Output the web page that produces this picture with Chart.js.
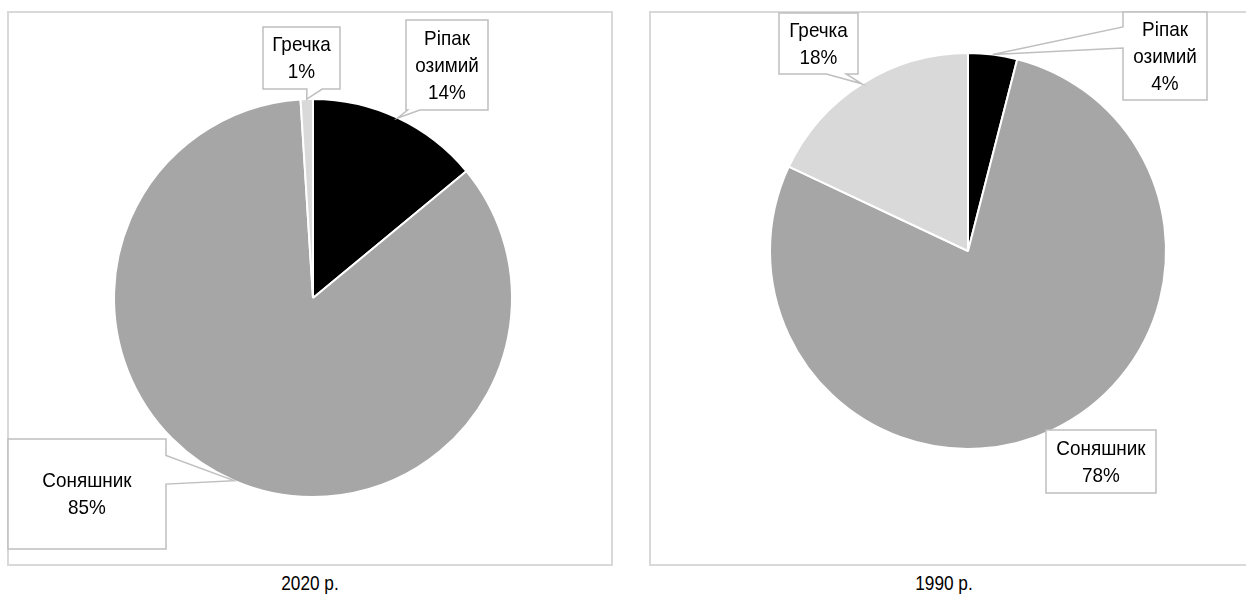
<!DOCTYPE html>
<html lang="uk">
<head>
<meta charset="utf-8">
<title>Структура посівних площ олійних культур</title>
<script src="https://cdn.jsdelivr.net/npm/chart.js@4.4.1/dist/chart.umd.min.js"></script>
<style>
  html, body { margin: 0; padding: 0; background: #ffffff; }
  body { position: relative; width: 1246px; height: 596px; overflow: hidden;
         font-family: "Liberation Sans", Arial, sans-serif; }
  .panel { position: absolute; }
  .caption { position: absolute; top: 570px; font-size: 21px; color: #000;
             text-align: center; width: 200px; line-height: 26px;
             transform: scaleX(0.82); transform-origin: center; }
</style>
</head>
<body>
<div class="panel" id="p2020" style="left:7px; top:11px; width:606px; height:555px;">
  <canvas id="c2020" width="606" height="555"></canvas>
</div>
<div class="panel" id="p1990" style="left:649px; top:11px; width:597px; height:555px;">
  <canvas id="c1990" width="597" height="555"></canvas>
</div>
<div class="caption" id="cap2020" style="left:210px;"></div>
<div class="caption" id="cap1990" style="left:844px;"></div>

<script>
// Crops and their shares of the sown area, %
const categories = ['Ріпак озимий', 'Соняшник', 'Гречка'];
const shares2020 = [14, 85, 1];
const shares1990 = [4, 78, 18];
const years = ['2020 р.', '1990 р.'];

const sliceColors = ['#000000', '#a6a6a6', '#d9d9d9'];

// Label text: crop name on separate lines, then the share
function labelLines(i, values) {
  return categories[i].split(' ').concat([values[i] + '%']);
}

// Frame around each panel
const framePlugin = {
  id: 'frame',
  beforeDraw(chart, args, opts) {
    const ctx = chart.ctx;
    ctx.save();
    ctx.strokeStyle = '#d9d9d9';
    ctx.lineWidth = 2;
    ctx.strokeRect(1, 1, (opts.width || chart.width) - 2, chart.height - 2);
    ctx.restore();
  }
};

// Callout boxes with a wedge pointing at the middle of each slice's rim
const calloutPlugin = {
  id: 'callouts',
  afterDatasetsDraw(chart, args, opts) {
    const ctx = chart.ctx;
    const meta = chart.getDatasetMeta(0);
    const values = chart.data.datasets[0].data;
    ctx.save();
    opts.boxes.forEach((b, i) => {
      const arc = meta.data[i];
      const mid = (arc.startAngle + arc.endAngle) / 2;
      const tip = {
        x: arc.x + Math.cos(mid) * arc.outerRadius,
        y: arc.y + Math.sin(mid) * arc.outerRadius
      };
      const x0 = b.x, y0 = b.y, x1 = b.x + b.w, y1 = b.y + b.h;
      const pts = [[x0, y0]];
      const t = b.tail;
      if (t && t.edge === 'top') pts.push([x0 + b.w * t.at[0], y0], [tip.x, tip.y], [x0 + b.w * t.at[1], y0]);
      pts.push([x1, y0]);
      if (t && t.edge === 'right') pts.push([x1, y0 + b.h * t.at[0]], [tip.x, tip.y], [x1, y0 + b.h * t.at[1]]);
      pts.push([x1, y1]);
      if (t && t.edge === 'bottom') pts.push([x0 + b.w * t.at[1], y1], [tip.x, tip.y], [x0 + b.w * t.at[0], y1]);
      pts.push([x0, y1]);
      if (t && t.edge === 'left') pts.push([x0, y0 + b.h * t.at[1]], [tip.x, tip.y], [x0, y0 + b.h * t.at[0]]);

      ctx.beginPath();
      pts.forEach((p, k) => k ? ctx.lineTo(p[0], p[1]) : ctx.moveTo(p[0], p[1]));
      ctx.closePath();
      ctx.fillStyle = '#ffffff';
      ctx.fill();
      ctx.strokeStyle = '#bfbfbf';
      ctx.lineWidth = 1.5;
      ctx.lineJoin = 'miter';
      ctx.stroke();

      // Slightly condensed, tall lettering
      const lines = labelLines(i, values);
      const lh = 27;
      const sx = 0.9;
      const cx = x0 + b.w / 2;
      const top = y0 + b.h / 2 - (lines.length * lh) / 2 + lh / 2 + 1;
      ctx.save();
      ctx.translate(cx, 0);
      ctx.scale(sx, 1);
      ctx.fillStyle = '#000000';
      ctx.font = '21px "Liberation Sans", Arial, sans-serif';
      ctx.textAlign = 'center';
      ctx.textBaseline = 'middle';
      lines.forEach((s, k) => ctx.fillText(s, 0, top + k * lh));
      ctx.restore();
    });
    ctx.restore();
  }
};

function makePie(id, values, padding, boxes, frameWidth) {
  return new Chart(document.getElementById(id), {
    type: 'pie',
    data: {
      labels: categories,
      datasets: [{
        data: values,
        backgroundColor: sliceColors,
        borderColor: '#ffffff',
        borderWidth: 2,
        hoverOffset: 0
      }]
    },
    options: {
      responsive: false,
      animation: false,
      events: [],
      rotation: 0,
      layout: { padding },
      plugins: {
        legend: { display: false },
        tooltip: { enabled: false },
        frame: { width: frameWidth },
        callouts: { boxes }
      }
    },
    plugins: [framePlugin, calloutPlugin]
  });
}

// 2020
makePie('c2020', shares2020,
  { left: 106, top: 87, right: 100, bottom: 68 },
  [
    { x: 399, y: 9,   w: 82,  h: 90,  tail: { edge: 'bottom', at: [0.02, 0.17] } },
    { x: 1,   y: 428, w: 158, h: 110, tail: { edge: 'right',  at: [0.15, 0.41] } },
    { x: 256, y: 16,  w: 77,  h: 62,  tail: { edge: 'bottom', at: [0.57, 0.77] } }
  ], 606);

// 1990
makePie('c1990', shares1990,
  { left: 120, top: 41, right: 79, bottom: 116 },
  [
    { x: 474, y: 1,   w: 84,  h: 88,  tail: { edge: 'left',   at: [0.17, 0.41] } },
    { x: 397, y: 419, w: 110, h: 63,  tail: null },
    { x: 130, y: 2,   w: 79,  h: 61,  tail: { edge: 'bottom', at: [0.6, 0.85] } }
  ], 620);

document.getElementById('cap2020').textContent = years[0];
document.getElementById('cap1990').textContent = years[1];
</script>
</body>
</html>
